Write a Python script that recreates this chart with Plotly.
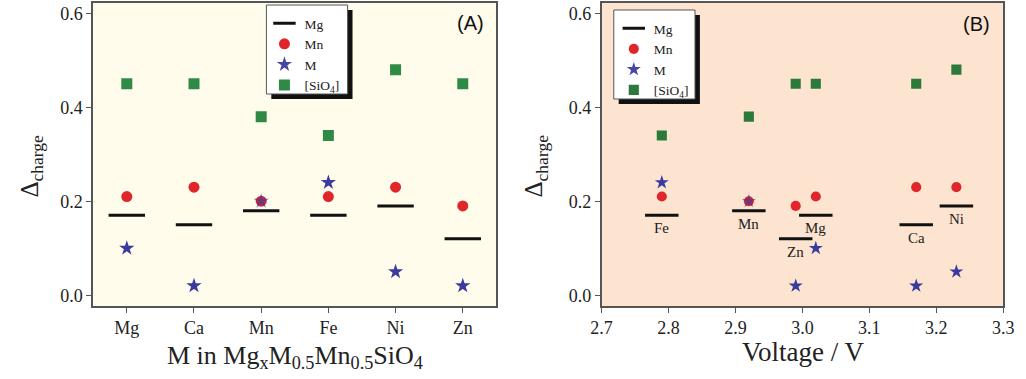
import plotly.graph_objects as go

elements_a = ["Mg", "Ca", "Mn", "Fe", "Ni", "Zn"]
mg_a = [0.17, 0.15, 0.18, 0.17, 0.19, 0.12]
mn_a = [0.21, 0.23, 0.20, 0.21, 0.23, 0.19]
m_a = [0.10, 0.02, 0.20, 0.24, 0.05, 0.02]
sio4_a = [0.45, 0.45, 0.38, 0.34, 0.48, 0.45]

elements_b = ["Fe", "Mn", "Zn", "Mg", "Ca", "Ni"]
voltage_b = [2.79, 2.92, 2.99, 3.02, 3.17, 3.23]
mg_b = [0.17, 0.18, 0.12, 0.17, 0.15, 0.19]
mn_b = [0.21, 0.20, 0.19, 0.21, 0.23, 0.23]
m_b = [0.24, 0.20, 0.02, 0.10, 0.02, 0.05]
sio4_b = [0.34, 0.38, 0.45, 0.45, 0.45, 0.48]

y_ticks = [0.0, 0.2, 0.4, 0.6]
x_ticks_b = [2.7, 2.8, 2.9, 3.0, 3.1, 3.2, 3.3]

SERIF = "Liberation Serif"
SANS = "Liberation Sans"
TXT = "#222222"
RED = "#e0262a"
BLUE = "#3b3a9e"
GREEN = "#2f8a45"
GREEN_B = "#2b7a3c"

fig = go.Figure()

xa = list(range(len(elements_a)))


def add_series(x, mg, mn, m, sio4, xaxis, yaxis, legend, green, scale):
    fig.add_trace(go.Scatter(x=x, y=mg, mode="markers", name="Mg",
                             marker=dict(symbol="line-ew", size=26 * scale, color="black",
                                         line=dict(width=3, color="#111")),
                             xaxis=xaxis, yaxis=yaxis, legend=legend))
    fig.add_trace(go.Scatter(x=x, y=mn, mode="markers", name="Mn",
                             marker=dict(symbol="circle", size=11 * scale, color=RED),
                             xaxis=xaxis, yaxis=yaxis, legend=legend))
    op = [0.65 if abs(a - b) < 1e-9 else 1.0 for a, b in zip(m, mn)]
    fig.add_trace(go.Scatter(x=x, y=m, mode="markers", name="M",
                             marker=dict(symbol="star", size=11.5 * scale, color=BLUE, opacity=op),
                             xaxis=xaxis, yaxis=yaxis, legend=legend))
    fig.add_trace(go.Scatter(x=x, y=sio4, mode="markers", name="[SiO<sub>4</sub>]",
                             marker=dict(symbol="square", size=11 * scale, color=green),
                             xaxis=xaxis, yaxis=yaxis, legend=legend))


add_series(xa, mg_a, mn_a, m_a, sio4_a, "x", "y", "legend", GREEN, 1.0)
add_series(voltage_b, mg_b, mn_b, m_b, sio4_b, "x2", "y2", "legend2", GREEN_B, 0.92)

# element labels under the dashes in panel B
for el, v, y in zip(elements_b, voltage_b, mg_b):
    fig.add_annotation(x=v, y=y, xref="x2", yref="y2", text=el, showarrow=False,
                       xanchor="center", yanchor="top", yshift=-3,
                       font=dict(family=SERIF, size=15, color=TXT))

W, H = 1026, 379
dom_a = [84 / W, 496 / W]
dom_b = [603.5 / W, 1014 / W]
dom_y = [1 - 306 / H, 1 - 2.5 / H]

axis_common = dict(showline=True, linecolor="#555", linewidth=1.5, mirror=True,
                   ticks="outside", ticklen=5, tickcolor="#555", tickwidth=1.2,
                   showgrid=False, zeroline=False,
                   tickfont=dict(family=SERIF, size=18, color=TXT))

leg_common = dict(xanchor="left", yanchor="top", bgcolor="rgba(0,0,0,0)",
                  borderwidth=0, font=dict(family=SERIF, size=13.5, color=TXT),
                  tracegroupgap=0, itemwidth=30)

fig.update_layout(
    width=W, height=H, autosize=False,
    margin=dict(l=0, r=0, t=0, b=0),
    paper_bgcolor="white",
    plot_bgcolor="rgba(0,0,0,0)",
    showlegend=True,
    xaxis=dict(domain=dom_a, range=[-0.5, 5.5], tickmode="array", tickvals=xa,
               ticktext=elements_a, anchor="y", **axis_common),
    yaxis=dict(domain=dom_y, range=[-0.023, 0.623], tickmode="array", tickvals=y_ticks,
               tickformat=".1f", anchor="x", **axis_common),
    xaxis2=dict(domain=dom_b, range=[2.7, 3.3], tickmode="array", tickvals=x_ticks_b,
                tickformat=".1f", anchor="y2", **axis_common),
    yaxis2=dict(domain=dom_y, range=[-0.023, 0.623], tickmode="array", tickvals=y_ticks,
                tickformat=".1f", anchor="x2", **axis_common),
    legend=dict(x=259 / W, y=1 - 8 / H, **leg_common),
    legend2=dict(x=616 / W, y=1 - 13 / H, **leg_common),
)

# axis titles as annotations
fig.add_annotation(x=(dom_a[0] + dom_a[1]) / 2, y=1 - 357 / H, xref="paper", yref="paper",
                   xanchor="center", yanchor="middle",
                   text="M in Mg<sub>x</sub>M<sub>0.5</sub>Mn<sub>0.5</sub>SiO<sub>4</sub>",
                   showarrow=False, font=dict(family=SERIF, size=26, color=TXT))
fig.add_annotation(x=810 / W, y=1 - 352 / H, xref="paper", yref="paper",
                   xanchor="center", yanchor="middle",
                   text="Voltage / V", showarrow=False,
                   font=dict(family=SERIF, size=27, color=TXT))
fig.add_annotation(x=21 / W, y=1 - 166 / H, xref="paper", yref="paper",
                   xanchor="center", yanchor="middle",
                   text="Δ<sub>charge</sub>", textangle=-90, showarrow=False,
                   font=dict(family=SERIF, size=25, color=TXT))
fig.add_annotation(x=537 / W, y=1 - 166 / H, xref="paper", yref="paper",
                   xanchor="center", yanchor="middle",
                   text="Δ<sub>charge</sub>", textangle=-90, showarrow=False,
                   font=dict(family=SERIF, size=25, color=TXT))

# plot backgrounds
fig.add_shape(type="rect", xref="paper", yref="paper", x0=dom_a[0], x1=dom_a[1],
              y0=dom_y[0], y1=dom_y[1], fillcolor="#fffcec", line=dict(width=0), layer="below")
fig.add_shape(type="rect", xref="paper", yref="paper", x0=dom_b[0], x1=dom_b[1],
              y0=dom_y[0], y1=dom_y[1], fillcolor="#fce4d0", line=dict(width=0), layer="below")

# legend boxes with drop shadows
for (bx0, by0, bx1, by1) in [(261, 5, 344, 94), (616, 10, 699, 99)]:
    fig.add_shape(type="rect", xref="paper", yref="paper",
                  x0=(bx0 + 5) / W, x1=(bx1 + 5) / W, y0=1 - (by1 + 5) / H, y1=1 - (by0 + 5) / H,
                  fillcolor="#111", line=dict(width=0), layer="above")
    fig.add_shape(type="rect", xref="paper", yref="paper",
                  x0=bx0 / W, x1=bx1 / W, y0=1 - by1 / H, y1=1 - by0 / H,
                  fillcolor="white", line=dict(width=1, color="#555"), layer="above")

fig.add_annotation(x=470 / W, y=1 - 23 / H, xref="paper", yref="paper", text="(A)",
                   xanchor="center", yanchor="middle",
                   showarrow=False, font=dict(family=SANS, size=20, color="#111"))
fig.add_annotation(x=987 / W, y=1 - 24 / H, xref="paper", yref="paper", text="(B)",
                   xanchor="center", yanchor="middle",
                   showarrow=False, font=dict(family=SANS, size=20, color="#111"))

fig.write_html("out.html", config={"responsive": False, "displayModeBar": False},
               post_script="document.body.style.margin='0';document.body.style.overflow='hidden';")
